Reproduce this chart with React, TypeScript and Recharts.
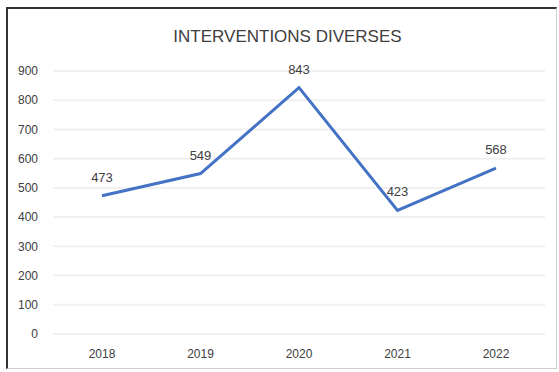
import React from "react";
import { LineChart, Line, XAxis, YAxis, CartesianGrid, LabelList } from "recharts";

const years = ["2018", "2019", "2020", "2021", "2022"];
const interventions = [473, 549, 843, 423, 568];
const yTicks = [0, 100, 200, 300, 400, 500, 600, 700, 800, 900];
const title = "INTERVENTIONS DIVERSES";

const data = years.map((y, i) => ({ year: y, value: interventions[i] }));

const FONT = "'Liberation Sans', Arial, sans-serif";

export default function App() {
  return (
    <div style={{ position: "fixed", left: 0, top: 0, width: 559, height: 372, background: "#fff", overflow: "hidden" }}>
      <div
        style={{
          position: "absolute",
          left: 6,
          top: 7,
          width: 551,
          height: 362,
          borderLeft: "2px solid #333",
          borderTop: "2px solid #333",
          borderRight: "1px solid #ccc",
          borderBottom: "1px solid #ccc",
          boxSizing: "border-box",
        }}
      />
      <div
        style={{
          position: "absolute",
          left: 0,
          width: 559,
          top: 27,
          textAlign: "center",
          fontFamily: FONT,
          fontSize: 17,
          color: "#404040",
          paddingLeft: 16,
          boxSizing: "border-box",
        }}
      >
        {title}
      </div>
      <div style={{ position: "absolute", left: 0, top: 0 }}>
        <LineChart
          width={559}
          height={372}
          data={data}
          margin={{ top: 71, right: 14, bottom: 8, left: 0 }}
        >
          <CartesianGrid vertical={false} stroke="#f0f0f0" strokeWidth={2} />
          <XAxis
            dataKey="year"
            axisLine={false}
            tickLine={false}
            height={30}
            padding={{ left: 49, right: 49 }}
            tick={{ fill: "#404040", fontSize: 12, fontFamily: FONT }}
            tickMargin={9}
          />
          <YAxis
            domain={[0, 900]}
            ticks={yTicks}
            axisLine={false}
            tickLine={false}
            width={53}
            tick={{ fill: "#404040", fontSize: 12, fontFamily: FONT, textAnchor: "end" }}
            tickMargin={9}
          />
          <Line
            type="linear"
            dataKey="value"
            stroke="#4472C4"
            strokeWidth={3}
            dot={false}
            isAnimationActive={false}
          >
            <LabelList
              dataKey="value"
              position="top"
              offset={14}
              style={{ fill: "#404040", fontSize: 13, fontFamily: FONT }}
            />
          </Line>
        </LineChart>
      </div>
    </div>
  );
}
